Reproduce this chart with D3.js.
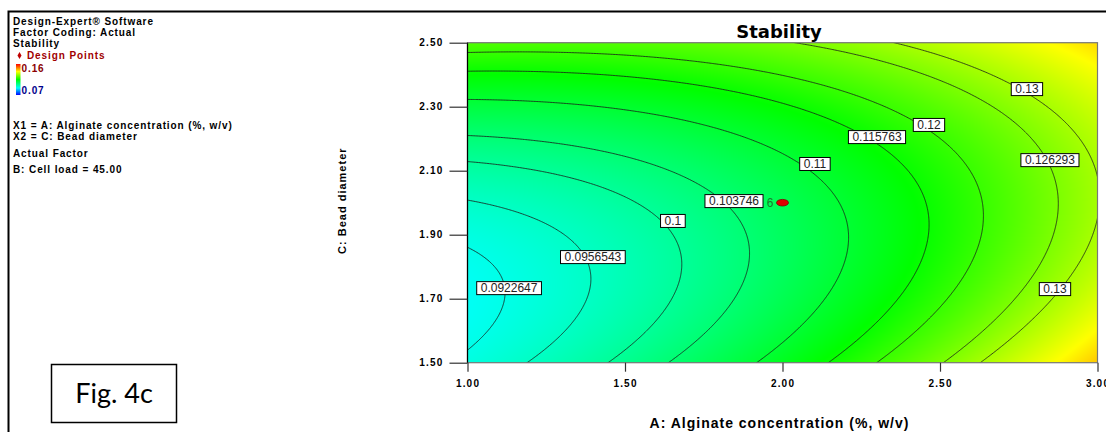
<!DOCTYPE html>
<meta charset="utf-8">
<style>
body { margin: 0; background: #fff; }
svg text { font-family: "Liberation Sans", Arial, sans-serif; }
.side text { font-size: 10px; font-weight: bold; letter-spacing: 0.9px; }
.tick text { font-size: 10px; font-weight: bold; letter-spacing: 1.2px; }
.clabel text { font-size: 12px; fill: #222; }
</style>
<body>
<script src="https://cdn.jsdelivr.net/npm/d3@7/dist/d3.min.js"></script>
<script>

var width = 1106,
    height = 432;

// fitted model for Stability, actual factors, B: Cell load = 45
var modelTerms = ["Intercept", "A", "C", "AC", "A^2", "C^2"];
var modelCoef = [0.20211, 0.0246, -0.1511, -0.0155, 0.0059, 0.049];

var contourLevels = [0.0922647, 0.0956543, 0.1, 0.103746, 0.11, 0.115763, 0.12, 0.126293, 0.13];

// where the contour labels sit (A, C) and what they say
var labelText = ["0.0922647", "0.0956543", "0.1", "0.103746", "0.11", "0.115763", "0.12", "0.126293", "0.13", "0.13"];
var labelA = [1.132, 1.398, 1.652, 1.846, 2.103, 2.300, 2.465, 2.849, 2.776, 2.865];
var labelC = [1.733, 1.830, 1.943, 2.005, 2.121, 2.205, 2.243, 2.133, 2.355, 1.730];

var designA = [2.00],
    designC = [2.00],
    designCount = ["6"];

var xTicks = [1.00, 1.50, 2.00, 2.50, 3.00];
var yTicks = [1.50, 1.70, 1.90, 2.10, 2.30, 2.50];

var legendLo = 0.07, legendHi = 0.16;
var colorStops = [0.07, 0.09, 0.115, 0.138, 0.16];
var colorRange = ["#0000ff", "#00ffff", "#00ff00", "#ffff00", "#ff0000"];

var sideLines = [
  {t: "Design-Expert\u00ae Software", y: 25},
  {t: "Factor Coding: Actual", y: 36},
  {t: "Stability", y: 46.5},
  {t: "X1 = A: Alginate concentration (%, w/v)", y: 129},
  {t: "X2 = C: Bead diameter", y: 139.5},
  {t: "Actual Factor", y: 156.5},
  {t: "B: Cell load = 45.00", y: 173}
];

function stability(a, c) {
  return modelCoef[0] + modelCoef[1] * a + modelCoef[2] * c + modelCoef[3] * a * c
    + modelCoef[4] * a * a + modelCoef[5] * c * c;
}

var x = d3.scaleLinear().domain([1, 3]).range([467.5, 1097.5]);
var y = d3.scaleLinear().domain([1.5, 2.5]).range([362.7, 42.7]);
var color = d3.scaleLinear().domain(colorStops).range(colorRange).clamp(true);

var svg = d3.select("body").append("svg")
    .attr("width", width)
    .attr("height", height);

// frame
svg.append("path")
    .attr("d", "M8.5,432V11.5H1106")
    .attr("fill", "none")
    .attr("stroke", "#000")
    .attr("stroke-width", 2);

// heat map
var pw = Math.round(x.range()[1] - x.range()[0]),
    ph = Math.round(y.range()[0] - y.range()[1]);
var canvas = document.createElement("canvas");
canvas.width = pw; canvas.height = ph;
var ctx = canvas.getContext("2d");
var img = ctx.createImageData(pw, ph);
for (var j = 0; j < ph; j++) {
  for (var i = 0; i < pw; i++) {
    var c = d3.rgb(color(stability(x.invert(x.range()[0] + i + 0.5), y.invert(y.range()[1] + j + 0.5))));
    var k = (j * pw + i) * 4;
    img.data[k] = c.r; img.data[k + 1] = c.g; img.data[k + 2] = c.b; img.data[k + 3] = 255;
  }
}
ctx.putImageData(img, 0, 0);

svg.append("image")
    .attr("x", x.range()[0])
    .attr("y", y.range()[1])
    .attr("width", pw)
    .attr("height", ph)
    .attr("preserveAspectRatio", "none")
    .attr("href", canvas.toDataURL());

svg.append("clipPath").attr("id", "plotclip")
  .append("rect")
    .attr("x", x.range()[0])
    .attr("y", y.range()[1])
    .attr("width", pw)
    .attr("height", ph);

// contour lines
var dA = 0.005, dC = 0.0025, pad = 4;
var nx = Math.round(2 / dA) + 1 + 2 * pad,
    ny = Math.round(1 / dC) + 1 + 2 * pad;
var grid = new Array(nx * ny);
for (var gj = 0; gj < ny; gj++)
  for (var gi = 0; gi < nx; gi++)
    grid[gj * nx + gi] = stability(1 + (gi - pad) * dA, 1.5 + (gj - pad) * dC);

var gridPath = d3.geoPath(d3.geoTransform({
  point: function(gx, gy) {
    this.stream.point(x(1 + (gx - 0.5 - pad) * dA), y(1.5 + (gy - 0.5 - pad) * dC));
  }
}));

svg.append("g")
    .attr("clip-path", "url(#plotclip)")
  .selectAll("path")
  .data(d3.contours().size([nx, ny]).thresholds(contourLevels)(grid))
  .enter().append("path")
    .attr("d", gridPath)
    .attr("fill", "none")
    .attr("stroke", "#1a1a1a")
    .attr("stroke-width", 0.8);

// plot border
svg.append("rect")
    .attr("x", x.range()[0])
    .attr("y", y.range()[1])
    .attr("width", pw)
    .attr("height", ph)
    .attr("fill", "none")
    .attr("stroke", "#777")
    .attr("stroke-width", 1.2);
svg.append("line")
    .attr("x1", x.range()[0]).attr("x2", x.range()[0])
    .attr("y1", y.range()[1]).attr("y2", y.range()[0])
    .attr("stroke", "#000")
    .attr("stroke-width", 1.2);

// axes
var yAxis = svg.append("g").attr("transform", "translate(" + x.range()[0] + ",0)")
    .call(d3.axisLeft(y).tickValues(yTicks).tickFormat(d3.format(".2f")).tickSize(18).tickPadding(6));
var xAxis = svg.append("g").attr("transform", "translate(0," + y.range()[0] + ")")
    .call(d3.axisBottom(x).tickValues(xTicks).tickFormat(d3.format(".2f")).tickSize(9).tickPadding(8));
[xAxis, yAxis].forEach(function(ax) {
  ax.select(".domain").remove();
  ax.selectAll(".tick line").attr("stroke", "#333").attr("stroke-width", 1.2);
  ax.selectAll(".tick text").attr("fill", "#000").style("font-family", "\"Liberation Sans\", Arial, sans-serif");
});

// contour labels
var lab = svg.append("g").attr("class", "clabel")
  .selectAll("g")
  .data(labelText)
  .enter().append("g")
    .attr("transform", function(d, i) { return "translate(" + x(labelA[i]) + "," + y(labelC[i]) + ")"; });
lab.append("rect")
    .attr("fill", "#fff")
    .attr("stroke", "#000")
    .attr("stroke-width", 1);
lab.append("text")
    .attr("text-anchor", "middle")
    .attr("dy", "0.36em")
    .text(function(d) { return d; });
lab.each(function() {
  var g = d3.select(this);
  var w = g.select("text").node().getComputedTextLength() + 8;
  g.select("rect").attr("x", -w / 2).attr("y", -6.5).attr("width", w).attr("height", 13);
});

// design point
var dp = svg.append("g").selectAll("g")
  .data(designA)
  .enter().append("g")
    .attr("transform", function(d, i) { return "translate(" + x(d) + "," + y(designC[i]) + ")"; });
dp.append("ellipse")
    .attr("rx", 6).attr("ry", 3.3)
    .attr("fill", "#e00000")
    .attr("stroke", "#800000")
    .attr("stroke-width", 0.8);
dp.append("text")
    .attr("x", -9)
    .attr("dy", "0.36em")
    .attr("text-anchor", "end")
    .attr("font-size", 12)
    .attr("fill", "#1f7a2a")
    .text(function(d, i) { return designCount[i]; });

// titles
svg.append("text")
    .attr("x", 779).attr("y", 38)
    .attr("text-anchor", "middle")
    .style("font-family", "\"DejaVu Sans\", Verdana, sans-serif")
    .attr("font-size", 18)
    .attr("font-weight", "bold")
    .text("Stability");
svg.append("text")
    .attr("x", (x.range()[0] + x.range()[1]) / 2 - 3).attr("y", 428)
    .attr("text-anchor", "middle")
    .attr("font-size", 14)
    .attr("font-weight", "bold")
    .style("letter-spacing", "1px")
    .text("A: Alginate concentration (%, w/v)");
svg.append("text")
    .attr("transform", "translate(346," + ((y.range()[0] + y.range()[1]) / 2 - 2) + ") rotate(-90)")
    .attr("text-anchor", "middle")
    .attr("font-size", 11)
    .attr("font-weight", "bold")
    .style("letter-spacing", "1px")
    .text("C: Bead diameter");

// side panel
var side = svg.append("g").attr("class", "side");
side.selectAll("text.line")
  .data(sideLines)
  .enter().append("text")
    .attr("class", "line")
    .attr("x", 13)
    .attr("y", function(d) { return d.y; })
    .text(function(d) { return d.t; });

side.append("path")
    .attr("d", d3.symbol(d3.symbolDiamond, 14))
    .attr("transform", "translate(19.5,55.5)")
    .attr("fill", "#c00000");
side.append("text")
    .attr("x", 27).attr("y", 58.5)
    .attr("fill", "#a00000")
    .text("Design Points");

var grad = svg.append("defs").append("linearGradient")
    .attr("id", "legendgrad")
    .attr("x1", 0).attr("y1", 1).attr("x2", 0).attr("y2", 0);
grad.selectAll("stop")
  .data(colorStops)
  .enter().append("stop")
    .attr("offset", function(d) { return (d - legendLo) / (legendHi - legendLo); })
    .attr("stop-color", function(d) { return color(d); });
side.append("rect")
    .attr("x", 16).attr("y", 64)
    .attr("width", 4.5).attr("height", 31)
    .attr("fill", "url(#legendgrad)");
side.append("text")
    .attr("x", 21.5).attr("y", 71.5)
    .attr("fill", "#8b0000")
    .text(d3.format(".2f")(legendHi));
side.append("text")
    .attr("x", 21.5).attr("y", 93.5)
    .attr("fill", "#00008b")
    .text(d3.format(".2f")(legendLo));

// figure tag
svg.append("rect")
    .attr("x", 51.5).attr("y", 364.5)
    .attr("width", 125).attr("height", 58)
    .attr("fill", "#fff")
    .attr("stroke", "#000")
    .attr("stroke-width", 1.5);
svg.append("text")
    .attr("x", 114).attr("y", 403)
    .attr("text-anchor", "middle")
    .style("font-family", "Lato, \"Open Sans\", sans-serif")
    .attr("font-size", 27)
    .text("Fig. 4c");

</script>
